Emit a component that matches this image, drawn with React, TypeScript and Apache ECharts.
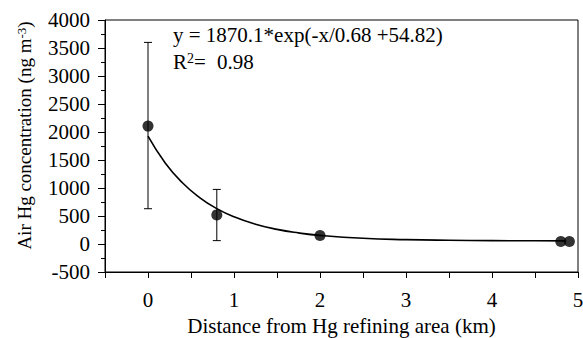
import React, { useEffect, useRef } from "react";
import * as echarts from "echarts";

// Measured points (distance km, air Hg ng m-3)
const distances = [0, 0.8, 2, 4.8, 4.9];
const concentrations = [2105, 520, 150, 45, 45];

// Error bars: distance, low, high
const errX = [0, 0.8];
const errLow = [630, 60];
const errHigh = [3600, 975];

// Fitted curve
const fitX = [0, 0.2, 0.4, 0.6, 0.8, 1.0, 1.25, 1.5, 1.75, 2.0, 2.5, 3.0, 3.5, 4.0, 4.5, 4.85];
const fitY = [1925, 1448, 1093, 829, 632, 485, 353, 261, 198, 154, 102, 78, 66, 60, 57, 56];

const FONT = "'Liberation Serif', 'Times New Roman', Times, serif";
const FS = 21;

export default function App() {
  const ref = useRef<HTMLDivElement>(null);
  useEffect(() => {
    if (!ref.current) return;
    const chart = echarts.init(ref.current, undefined, { renderer: "svg" });
    const option: any = {
      animation: false,
      backgroundColor: "#fff",
      textStyle: { fontFamily: FONT, color: "#000" },
      grid: {
        left: 105,
        right: 5,
        top: 20,
        bottom: 66,
        containLabel: false,
        outerBoundsMode: "none",
        show: true,
        borderColor: "#000",
        borderWidth: 1,
        backgroundColor: "transparent",
      },
      xAxis: {
        type: "value",
        min: -0.5,
        max: 5,
        interval: 0.5,
        name: "Distance from Hg refining area (km)",
        nameLocation: "middle",
        nameGap: 43,
        nameTextStyle: { fontFamily: FONT, fontSize: FS, color: "#000", lineHeight: 21 },
        axisLine: { show: true, onZero: false, lineStyle: { color: "#000", width: 1 } },
        axisTick: { show: true, inside: false, length: 6, lineStyle: { color: "#000" } },
        axisLabel: {
          fontFamily: FONT,
          fontSize: FS,
          color: "#000",
          margin: 17,
          formatter: (v: number) => (Math.abs(v - Math.round(v)) < 1e-6 ? String(Math.round(v)) : ""),
        },
        splitLine: { show: false },
      },
      yAxis: {
        type: "value",
        min: -500,
        max: 4000,
        interval: 500,
        name: "Air Hg concentration (ng m{sup|-3})",
        nameLocation: "middle",
        nameGap: 71,
        nameTextStyle: {
          fontFamily: FONT,
          fontSize: 19,
          color: "#000",
          padding: [0, 0, 0, 21],
          rich: {
            sup: { fontFamily: FONT, fontSize: 13, verticalAlign: "top", color: "#000", lineHeight: 19 },
          },
        },
        axisLine: { show: true, onZero: false, lineStyle: { color: "#000", width: 1 } },
        axisTick: { show: true, inside: false, length: 7, lineStyle: { color: "#000" } },
        minorTick: { show: true, splitNumber: 2, length: 4, lineStyle: { color: "#000" } },
        axisLabel: {
          fontFamily: FONT,
          fontSize: FS,
          color: "#000",
          margin: 15,
          formatter: (v: number) => String(v),
        },
        splitLine: { show: false },
      },
      graphic: [
        {
          type: "text",
          left: 173,
          top: 24,
          style: {
            text: "y = 1870.1*exp(-x/0.68 +54.82)",
            fontFamily: FONT,
            fontSize: FS,
            fill: "#000",
          },
        },
        {
          type: "text",
          left: 173,
          top: 51,
          style: {
            text: "R{sup|2}= {n|0.98}",
            fontFamily: FONT,
            fontSize: FS,
            fill: "#000",
            rich: {
              sup: { fontFamily: FONT, fontSize: 14, verticalAlign: "top", lineHeight: 21 },
              n: { fontFamily: FONT, fontSize: FS, padding: [0, 0, 0, 6] },
            },
          },
        },
      ],
      series: [
        {
          type: "line",
          data: fitX.map((x, i) => [x, fitY[i]]),
          smooth: true,
          showSymbol: false,
          symbol: "none",
          lineStyle: { color: "#000", width: 1.6 },
          z: 2,
        },
        {
          type: "custom",
          data: errX.map((x, i) => [x, errLow[i], errHigh[i]]),
          renderItem: (params: any, api: any) => {
            const x = api.value(0);
            const lo = api.coord([x, api.value(1)]);
            const hi = api.coord([x, api.value(2)]);
            const w = 4;
            const st = { stroke: "#000", lineWidth: 1 };
            return {
              type: "group",
              children: [
                { type: "line", shape: { x1: lo[0], y1: lo[1], x2: hi[0], y2: hi[1] }, style: st },
                { type: "line", shape: { x1: hi[0] - w, y1: hi[1], x2: hi[0] + w, y2: hi[1] }, style: st },
                { type: "line", shape: { x1: lo[0] - w, y1: lo[1], x2: lo[0] + w, y2: lo[1] }, style: st },
              ],
            };
          },
          z: 3,
        },
        {
          type: "scatter",
          data: distances.map((x, i) => [x, concentrations[i]]),
          symbol: "circle",
          symbolSize: 11,
          itemStyle: { color: "#000" },
          z: 4,
        },
      ],
    };
    chart.setOption(option);
    return () => chart.dispose();
  }, []);
  return (
    <div
      ref={ref}
      style={{ position: "fixed", left: 0, top: 0, width: 583, height: 338 }}
    />
  );
}
